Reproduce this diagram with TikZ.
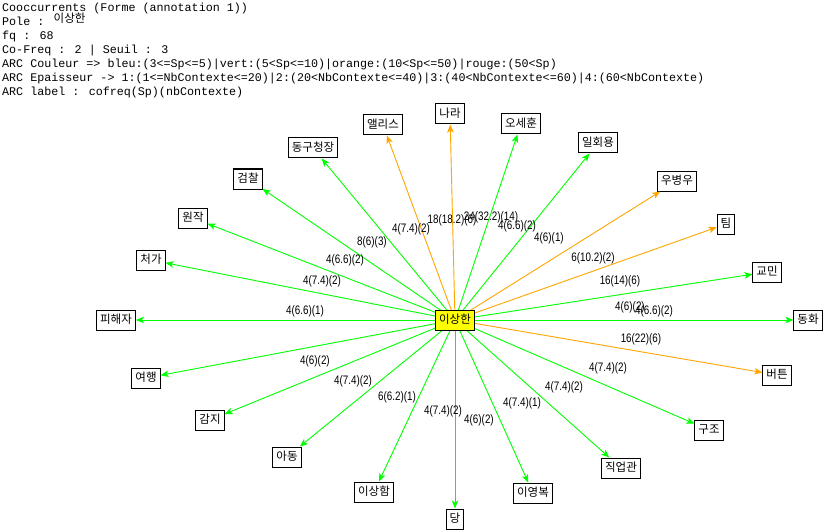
\documentclass[tikz,border=0pt]{standalone}
\usepackage{fontspec}
\setmainfont{Liberation Sans}
\newfontfamily\kr{Noto Sans CJK KR}
\newfontfamily\mono{Liberation Mono}
\newfontfamily\labfont[FakeStretch=0.8]{Liberation Sans}
\usetikzlibrary{arrows.meta}
\definecolor{vert}{RGB}{0,255,0}
\definecolor{orng}{RGB}{255,165,0}
\definecolor{jaune}{RGB}{255,255,0}
\begin{document}
\begin{tikzpicture}[x=1pt,y=-1pt,
 word/.style={draw=black,line width=1pt,fill=white,font=\kr\fontsize{11.5}{13}\selectfont,minimum height=20pt,inner xsep=3.5pt,inner ysep=0pt,text height=9pt,text depth=2pt},
 pole/.style={word,fill=jaune},
 hdr/.style={anchor=base west,inner sep=0pt,font=\mono\fontsize{11.7}{14}\selectfont},
 lab/.style={inner sep=0pt,font=\labfont\fontsize{12.3}{14}\selectfont},
 arcv/.style={draw=vert,line width=0.9pt,-{Stealth[length=8pt,width=6.5pt,inset=2pt]}},
 arco/.style={arcv,draw=orng},
]
\useasboundingbox (0,0) rectangle (830,532);
\fill[white] (0,0) rectangle (830,532);

% header
\node[hdr] (h1) at (2,11.5) {Cooccurrents (Forme (annotation 1))};
\node[hdr] (h2) at (2,25.5) {Pole : {\kr\fontsize{11.5}{13}\selectfont\raisebox{2.5pt}{이상한}}};
\node[hdr] (h3) at (2,39.5) {fq : 68};
\node[hdr] (h4) at (2,53.5) {Co-Freq : 2 | Seuil : 3};
\node[hdr] (h5) at (2,67.5) {ARC Couleur => bleu:(3<=Sp<=5)|vert:(5<Sp<=10)|orange:(10<Sp<=50)|rouge:(50<Sp)};
\node[hdr] (h6) at (2,81.5) {ARC Epaisseur -> 1:(1<=NbContexte<=20)|2:(20<NbContexte<=40)|3:(40<NbContexte<=60)|4:(60<NbContexte)};
\node[hdr] (h7) at (2,95.5) {ARC label : cofreq(Sp)(nbContexte)};

% nodes
\node[word] (nara) at (450,114) {나라};
\node[word] (alice) at (383,125) {앨리스};
\node[word] (ose) at (521,124) {오세훈};
\node[word] (donggu) at (313,148) {동구청장};
\node[word] (ilhoe) at (598,143) {일회용};
\node[word] (ubyeong) at (677,181) {우병우};
\node[word] (tim) at (726,224) {팀};
\node[word] (gyomin) at (767,272) {교민};
\node[word] (donghwa) at (808,320) {동화};
\node[word] (beoteun) at (777,375) {버튼};
\node[word] (gujo) at (709,430) {구조};
\node[word] (jigeop) at (621,468) {직업관};
\node[word] (iyeong) at (533,493) {이영복};
\node[word] (dang) at (455,519) {당};
\node[word] (isangham) at (374,492) {이상함};
\node[word] (adong) at (287,457) {아동};
\node[word] (gamji) at (210,420) {감지};
\node[word] (yeohaeng) at (146,378) {여행};
\node[word] (pihae) at (116,320) {피해자};
\node[word] (cheoga) at (151,260) {처가};
\node[word] (wonjak) at (193,218) {원작};
\node[word] (geomchal) at (248,179) {검찰};

% edges
\foreach \t in {ose,donggu,ilhoe,gyomin,donghwa,gujo,jigeop,iyeong,dang,isangham,adong,gamji,yeohaeng,pihae,cheoga,wonjak,geomchal}
  \draw[arcv] (455,320) -- (\t);
\foreach \t in {nara,alice,ubyeong,tim,beoteun}
  \draw[arco] (455,320) -- (\t);

\node[pole] (pole) at (455,320) {이상한};

% labels
\node[lab] (l1) at (305,311) {4(6.6)(1)};
\node[lab] (l2) at (322,281) {4(7.4)(2)};
\node[lab] (l3) at (345,260) {4(6.6)(2)};
\node[lab] (l4) at (372,242) {8(6)(3)};
\node[lab] (l5) at (411,229) {4(7.4)(2)};
\node[lab] (l6) at (452,220) {18(18.2)(6)};
\node[lab] (l7) at (491,217) {24(32.2)(14)};
\node[lab] (l8) at (517,226) {4(6.6)(2)};
\node[lab] (l9) at (549,238) {4(6)(1)};
\node[lab] (l10) at (593,258) {6(10.2)(2)};
\node[lab] (l11) at (620,281) {16(14)(6)};
\node[lab] (l12) at (630,307) {4(6)(2)};
\node[lab] (l13) at (654,311) {4(6.6)(2)};
\node[lab] (l14) at (641,339) {16(22)(6)};
\node[lab] (l15) at (608,368) {4(7.4)(2)};
\node[lab] (l16) at (564,387) {4(7.4)(2)};
\node[lab] (l17) at (522,403) {4(7.4)(1)};
\node[lab] (l18) at (479,420) {4(6)(2)};
\node[lab] (l19) at (443,411) {4(7.4)(2)};
\node[lab] (l20) at (397,397) {6(6.2)(1)};
\node[lab] (l21) at (353,381) {4(7.4)(2)};
\node[lab] (l22) at (315,361) {4(6)(2)};
\end{tikzpicture}
\end{document}
